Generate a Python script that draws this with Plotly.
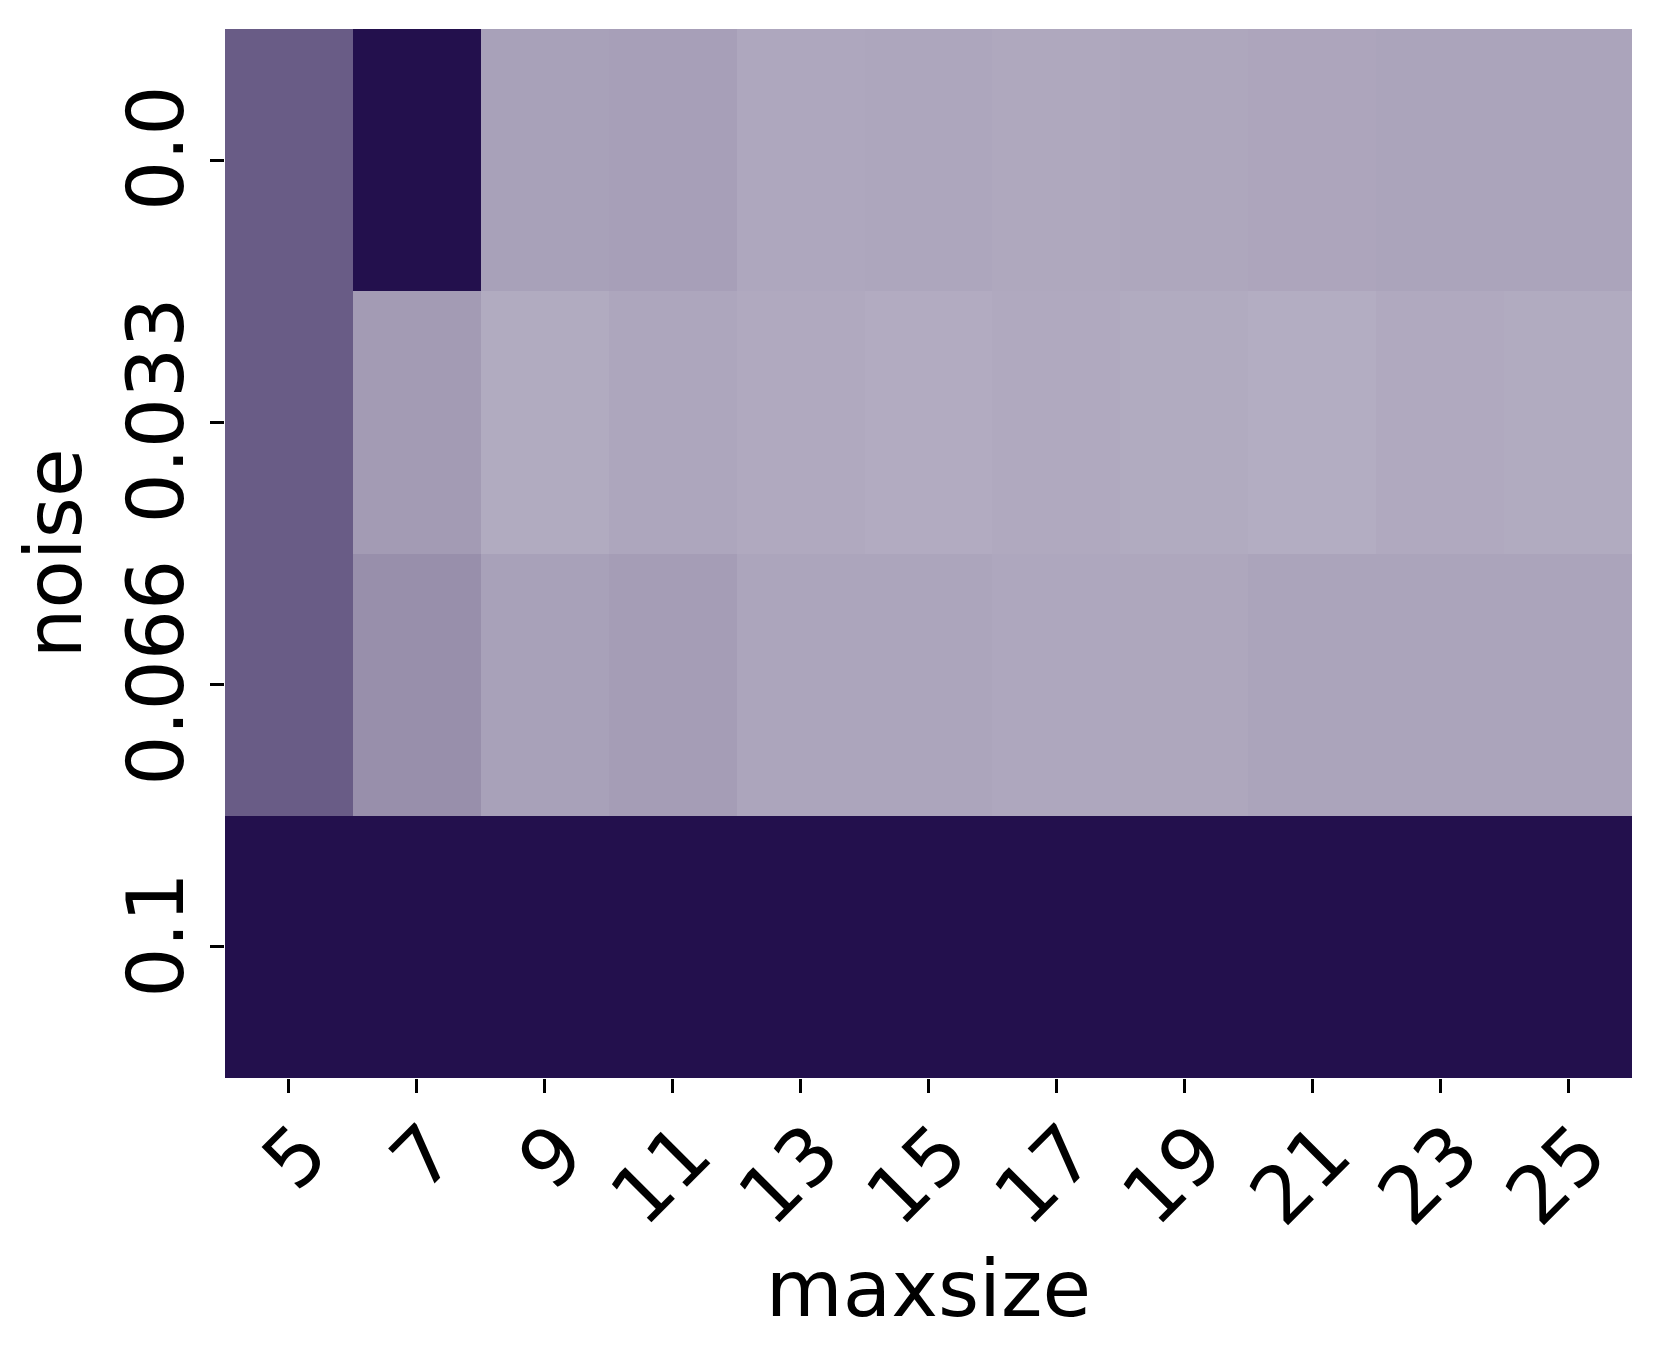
import plotly.graph_objects as go

maxsize = ["5", "7", "9", "11", "13", "15", "17", "19", "21", "23", "25"]
noise = ["0.0", "0.033", "0.066", "0.1"]

row_0 = [0.32, 0.0, 0.605, 0.6, 0.633, 0.627, 0.636, 0.63, 0.625, 0.62, 0.62]
row_033 = [0.32, 0.58, 0.647, 0.628, 0.64, 0.65, 0.64, 0.647, 0.655, 0.64, 0.647]
row_066 = [0.32, 0.53, 0.605, 0.59, 0.622, 0.622, 0.633, 0.63, 0.62, 0.62, 0.62]
row_1 = [0.0, 0.0, 0.0, 0.0, 0.0, 0.0, 0.0, 0.0, 0.0, 0.0, 0.0]

z = [row_0, row_033, row_066, row_1]

fig = go.Figure(go.Heatmap(
    z=z, x=maxsize, y=noise,
    colorscale=[[0, "#23104d"], [1, "#ffffff"]],
    zmin=0, zmax=1, showscale=False,
))

font = dict(family="DejaVu Sans", size=79, color="black")
fig.update_layout(
    width=1662, height=1351,
    margin=dict(l=217, r=38, t=21, b=281),
    plot_bgcolor="white", paper_bgcolor="white",
    font=font,
)
fig.update_xaxes(
    type="category", title=dict(text="maxsize", font=font, standoff=5),
    tickangle=-45, ticks="outside", ticklen=14, tickwidth=3, tickcolor="black",
    ticklabelstandoff=-18, ticklabelshift=15,
    showgrid=False, zeroline=False, showline=False,
)
fig.update_yaxes(
    type="category", autorange="reversed",
    title=dict(text="noise", font=font, standoff=2),
    tickangle=-90, ticks="outside", ticklen=14, tickwidth=3, tickcolor="black",
    ticklabelstandoff=-5,
    showgrid=False, zeroline=False, showline=False,
)

fig.write_html("out.html")
